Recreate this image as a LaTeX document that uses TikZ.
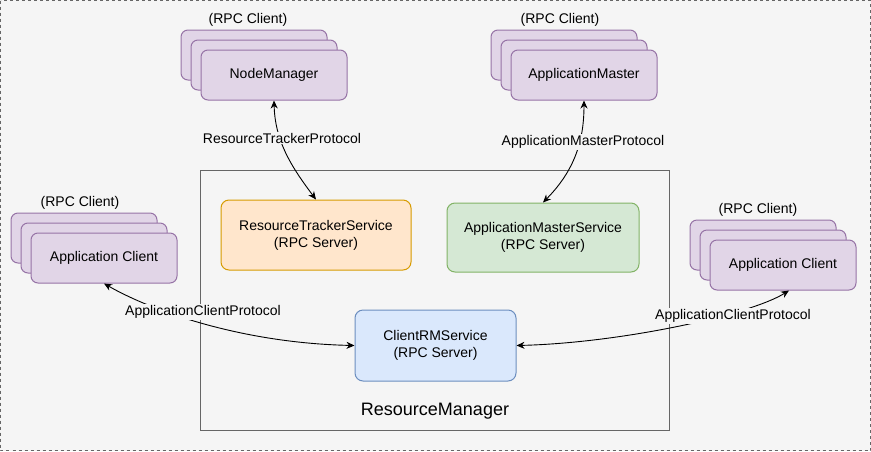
\documentclass[tikz,border=0pt]{standalone}
\usepackage{fontspec}
\setmainfont{Liberation Sans}
\usetikzlibrary{arrows.meta}

\definecolor{bgc}{HTML}{F5F5F5}
\definecolor{framec}{HTML}{666666}
\definecolor{clientfill}{HTML}{E1D5E7}
\definecolor{clientdraw}{HTML}{9673A6}
\definecolor{rtfill}{HTML}{FFE6CC}
\definecolor{rtdraw}{HTML}{D79B00}
\definecolor{amfill}{HTML}{D5E8D4}
\definecolor{amdraw}{HTML}{82B366}
\definecolor{crmfill}{HTML}{DAE8FC}
\definecolor{crmdraw}{HTML}{6C8EBF}

\begin{document}
\begin{tikzpicture}[x=1pt,y=-1pt,
        txt/.style={font=\fontsize{14}{17}\selectfont, align=center},
        client/.style={txt, draw=clientdraw, fill=clientfill, line width=1pt, rounded corners=7pt,
            minimum width=146pt, minimum height=50pt, inner sep=0pt},
        service/.style={txt, draw=#1draw, fill=#1fill, line width=1pt, rounded corners=8pt, inner sep=0pt},
        rpc/.style={txt, inner sep=0pt},
        proto/.style={draw, line width=0.9pt, {Stealth[length=8pt,width=7pt]}-{Stealth[length=8pt,width=7pt]}},
        protolabel/.style={txt, fill=bgc, inner sep=1pt}]
        \useasboundingbox (0,0) rectangle (871,451);
        \fill[bgc] (0,0) rectangle (871,451);
        \draw[framec, line width=1pt, dash pattern=on 3pt off 3pt] (0.5,0.5) rectangle (870.5,450.5);

        % ResourceManager
        \draw[framec, line width=1pt] (200.5,170.5) rectangle (669.5,430.5);
        \node[txt, font=\fontsize{18}{20}\selectfont] (rm) at (435,411) {ResourceManager};

        \node[service=rt, minimum width=190pt, minimum height=70pt] (rts) at (316,235) {ResourceTrackerService\\(RPC Server)};
        \node[service=am, minimum width=192pt, minimum height=69pt] (ams) at (543,237.5) {ApplicationMasterService\\(RPC Server)};
        \node[service=crm, minimum width=161pt, minimum height=71pt] (crm) at (435.5,345.5) {ClientRMService\\(RPC Server)};

        % NodeManager
        \node[rpc] (nmrpc) at (248,20) {(RPC Client)};
        \node[client] (nm1) at (254,55) {};
        \node[client] (nm2) at (264,65) {};
        \node[client] (nm3) at (274,75) {NodeManager};

        % ApplicationMaster
        \node[rpc] (amrpc) at (560,20) {(RPC Client)};
        \node[client] (am1) at (564,55) {};
        \node[client] (am2) at (574,65) {};
        \node[client] (am3) at (584,75) {ApplicationMaster};

        % Application Client, left
        \node[rpc] (lacrpc) at (80,203) {(RPC Client)};
        \node[client] (lac1) at (84,238) {};
        \node[client] (lac2) at (94,248) {};
        \node[client] (lac3) at (104,258) {Application Client};

        % Application Client, right
        \node[rpc] (racrpc) at (758,210) {(RPC Client)};
        \node[client] (rac1) at (763,245) {};
        \node[client] (rac2) at (773,255) {};
        \node[client] (rac3) at (783,265) {Application Client};

        \path[proto] (nm3.south) .. controls (275,140) and (290,165) .. (rts.north);
        \path[proto] (am3.south) .. controls (584,140) and (575,170) .. (ams.north);
        \path[proto] (lac3.south) .. controls (150,310) and (240,343) .. (crm.west);
        \path[proto] ([xshift=6pt]rac3.south) .. controls (750,315) and (620,343) .. (crm.east);

        \node[protolabel] (rtp) at (282,138) {ResourceTrackerProtocol};
        \node[protolabel] (amp) at (583,142) {ApplicationMasterProtocol};
        \node[protolabel] (lacp) at (203,312) {ApplicationClientProtocol};
        \node[protolabel] (racp) at (733,316) {ApplicationClientProtocol};
    \end{tikzpicture}
\end{document}
